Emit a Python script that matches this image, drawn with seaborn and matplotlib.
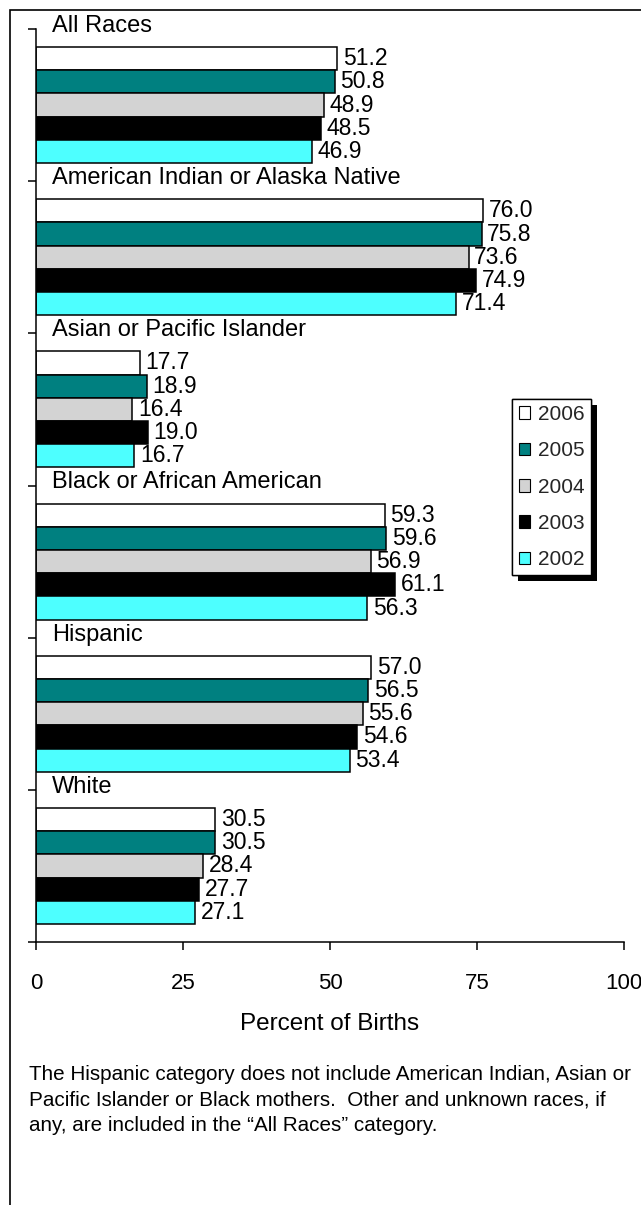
import pandas as pd
import matplotlib
matplotlib.use('Agg')
import matplotlib.pyplot as plt
import matplotlib.patheffects as pe
from matplotlib.patches import Rectangle
import seaborn as sns

races = ['All Races', 'American Indian or Alaska Native', 'Asian or Pacific Islander',
         'Black or African American', 'Hispanic', 'White']
years = ['2006', '2005', '2004', '2003', '2002']
v2006 = [51.2, 76.0, 17.7, 59.3, 57.0, 30.5]
v2005 = [50.8, 75.8, 18.9, 59.6, 56.5, 30.5]
v2004 = [48.9, 73.6, 16.4, 56.9, 55.6, 28.4]
v2003 = [48.5, 74.9, 19.0, 61.1, 54.6, 27.7]
v2002 = [46.9, 71.4, 16.7, 56.3, 53.4, 27.1]
colors = ['#FFFFFF', '#008080', '#D3D3D3', '#000000', '#4DFFFF']
xticks = [0, 25, 50, 75, 100]
note = ('The Hispanic category does not include American Indian, Asian or\n'
        'Pacific Islander or Black mothers.  Other and unknown races, if\n'
        'any, are included in the \u201cAll Races\u201d category.')

rows = []
for yr, vals in zip(years, [v2006, v2005, v2004, v2003, v2002]):
    for r, v in zip(races, vals):
        rows.append({'race': r, 'year': yr, 'pct': v})
df = pd.DataFrame(rows)

sns.set_theme(style='ticks')
plt.rcParams['font.family'] = ['Liberation Sans', 'DejaVu Sans']

fig = plt.figure(figsize=(6.41, 12.05), dpi=100)
ax = fig.add_axes([36 / 641, 1 - 942 / 1205, 588 / 641, 913 / 1205])

sns.barplot(data=df, x='pct', y='race', hue='year', order=races, hue_order=years,
            palette=colors, orient='h', width=0.763, edgecolor='black', linewidth=1.1,
            saturation=1, ax=ax)

for cont in ax.containers:
    ax.bar_label(cont, fmt='%.1f', padding=4, fontsize=16.5, color='black')

for i, r in enumerate(races):
    ax.text(2.7, i - 0.52, r, fontsize=17, va='center', ha='left', color='black')

ax.set_xlim(0, 100)
ax.set_ylim(len(races) - 0.5, -0.5)
ax.set_xticks(xticks)
ax.set_xticklabels([str(t) for t in xticks])
ax.set_yticks([i - 0.5 for i in range(len(races) + 1)])
ax.set_yticklabels([])
ax.tick_params(axis='x', length=6, width=1.1, pad=16, labelsize=16, colors='black')
ax.tick_params(axis='y', length=6, width=1.1, colors='black')
ax.set_xlabel('Percent of Births', fontsize=17.5, labelpad=14, color='black')
ax.set_ylabel('')
for s in ['top', 'right']:
    ax.spines[s].set_visible(False)
for s in ['left', 'bottom']:
    ax.spines[s].set_linewidth(1.1)
    ax.spines[s].set_color('black')

leg = ax.legend(loc='upper left', bbox_to_anchor=(0.81, 0.595), fontsize=15,
                frameon=True, fancybox=False, edgecolor='black', framealpha=1,
                handlelength=0.55, handleheight=0.55, handletextpad=0.4,
                borderpad=0.3, labelspacing=0.83, borderaxespad=0)
leg.get_frame().set_linewidth(1)
leg.get_frame().set_path_effects([
    pe.withSimplePatchShadow(offset=(4.3, -4.3), shadow_rgbFace='black', alpha=1),
    pe.Normal()])
for h in leg.legend_handles:
    h.set_edgecolor('black')
    h.set_linewidth(0.8)

fig.text(29 / 641, 1 - 1065 / 1205, note, fontsize=14.9, va='top', ha='left',
         linespacing=1.43, color='black')

fig.patches.append(Rectangle((10 / 641, -0.1), 1.2, 1 - 10 / 1205 + 0.1,
                             transform=fig.transFigure, fill=False,
                             edgecolor='black', linewidth=1.2))

fig.savefig('out.png', dpi=100)
